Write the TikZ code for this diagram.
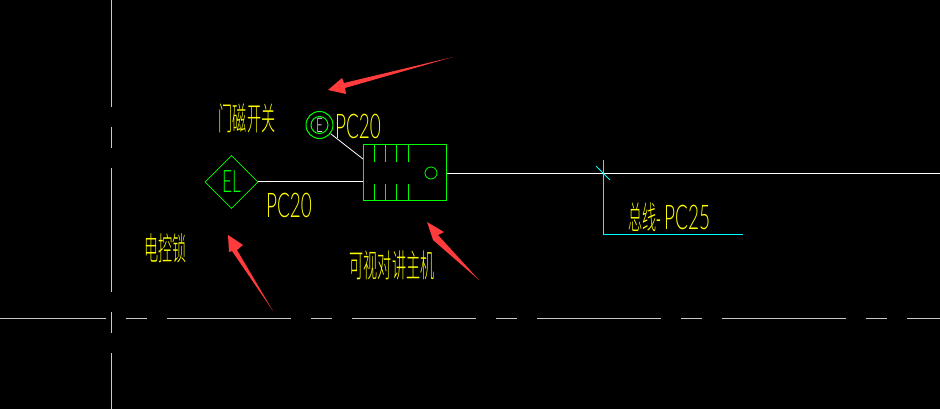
\documentclass[tikz,border=0pt]{standalone}
\usepackage{fontspec}
\newfontfamily\cadcjk[FakeStretch=0.44]{Noto Sans CJK SC Light}
\newfontfamily\cadlatin[FakeStretch=0.56]{Lato Light}
\definecolor{cadyellow}{RGB}{255,255,0}
\definecolor{cadgreen}{RGB}{0,255,0}
\definecolor{cadcyan}{RGB}{0,255,255}
\definecolor{cadgrey}{RGB}{200,200,200}
\definecolor{markred}{RGB}{255,59,59}
\usetikzlibrary{shapes.geometric}
\tikzset{
  cjklabel/.style={text=cadyellow, inner sep=0, font={\cadcjk\fontsize{32}{32}\selectfont}},
  pclabel/.style={text=cadyellow, inner sep=0, font={\cadlatin\fontsize{34}{34}\selectfont}},
  axisline/.style={draw=cadgrey, line width=0.9pt, dash pattern=on 124pt off 20pt on 21pt off 20pt},
  wire/.style={draw=white, line width=1pt},
  callout/.style={fill=markred},
}

\begin{document}
\begin{tikzpicture}[x=1pt, y=-1pt]
  \useasboundingbox[fill=black] (0,0) rectangle (940,409);

  \draw [axisline, dash phase=18pt] (0,318.5) -- (940,318.5);
  \draw [axisline, dash phase=17pt] (111.5,0) -- (111.5,409);

  \node [draw=cadgreen, line width=0.8pt, shape=diamond, minimum width=53pt, minimum height=53pt, inner sep=0,
         text=cadgreen, font={\cadlatin\fontsize{31}{31}\selectfont}] (lock) at (231.5,182) {EL};
  \node [draw=cadgreen, line width=1pt, circle, minimum size=27pt, inner sep=0] (switch) at (319.5,125) {};
  \node [draw=cadgreen, line width=1pt, circle, minimum size=17pt, inner sep=0, text=white,
         font={\cadlatin\fontsize{20}{20}\selectfont}] (switchin) at (319.5,125) {E};
  \node [draw=cadgreen, line width=1pt, minimum width=83.5pt, minimum height=55pt, inner sep=0] (host) at (405,172.5) {};
  \node [draw=cadgreen, line width=0.8pt, circle, minimum size=12pt, inner sep=0] (hostdot) at (431,173) {};

  \foreach \tx in {374,385.5,396.5,408.5} {
    \draw [cadgreen, line width=1pt] (\tx,145) -- (\tx,162);
    \draw [cadgreen, line width=1pt] (\tx,184) -- (\tx,200);
  }

  \coordinate (hostin) at (363,159);
  \coordinate (busend) at (940,173.5);
  \draw [wire] (lock.east) -- (host.west |- lock.east);
  \draw [wire, line width=0.8pt] (switch) -- (hostin);
  \draw [wire] (host.east |- busend) -- (busend);

  % leader for the bus label
  \coordinate (leadtop) at (603.5,160);
  \coordinate (leadcorner) at (603.5,234.5);
  \coordinate (leadend) at (743,234.5);
  \coordinate (tickstart) at (596,166);
  \coordinate (tickend) at (610,180);
  \draw [cadcyan, line width=1pt] (leadtop) -- (leadcorner) -- (leadend);
  \draw [cadcyan, line width=1pt] (tickstart) -- (tickend);

  \node [cjklabel] (switchname) at (247,118) {门磁开关};
  \node [pclabel] (switchpc) at (358,126) {PC20};
  \node [pclabel] (lockpc) at (289,205) {PC20};
  \node [cjklabel] (lockname) at (165.5,248) {电控锁};
  \node [cjklabel] (hostname) at (392,265) {可视对讲主机};
  \node [cjklabel, anchor=west] (busname) at (628,217) {总线-};
  \node [pclabel, anchor=west] (buspc) at (664,217) {PC25};

  \fill [callout] (328,90) -- (342,78) -- (344,83) -- (453,57) -- (345,88) -- (346,94) -- cycle;
  \fill [callout] (228,235) -- (243,245) -- (237,250) -- (273,311) -- (232,251) -- (229,252) -- cycle;
  \fill [callout] (427,222) -- (444,232) -- (438,235) -- (479,280) -- (433,240) -- cycle;
\end{tikzpicture}
\end{document}
